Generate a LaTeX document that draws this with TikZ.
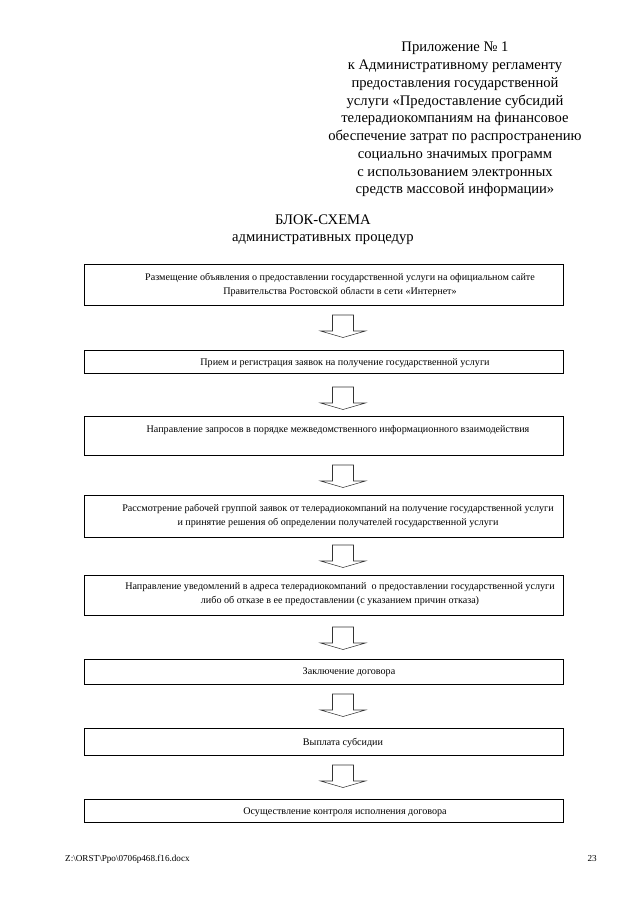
\documentclass[tikz,border=0pt]{standalone}
\usepackage{fontspec}
\setmainfont{Liberation Serif}
\usetikzlibrary{calc}
\begin{document}
\begin{tikzpicture}[x=0.9297pt,y=-0.9297pt]
\tikzset{
  procbox/.style={draw=black, line width=0.7pt, inner sep=0pt, outer sep=0pt, minimum width={479*0.9297pt}},
  boxtext/.style={align=center, inner sep=0pt, font=\fontsize{9.4}{13}\selectfont},
  hdrtext/.style={align=center, inner sep=0pt, font=\fontsize{13.6}{16.5}\selectfont},
  arrowline/.style={draw=black!80, line width=0.5pt, line join=miter},
  blkarrow/.pic={\path[arrowline] (-10.5,0) -- (-10.5,16) -- (-22.5,16) -- (0,22.5) -- (22.5,16) -- (10.5,16) -- (10.5,0) -- cycle;}
}
\useasboundingbox (0,0) rectangle (640,905);
\fill[white] (0,0) rectangle (640,905);

% header
\node[hdrtext] (hdr) at (455,119.5) {Приложение № 1\\к Административному регламенту\\предоставления государственной\\услуги «Предоставление субсидий\\телерадиокомпаниям на финансовое\\обеспечение затрат по распространению\\социально значимых программ\\с использованием электронных\\средств массовой информации»};
\node[hdrtext] (title1) at (323,220) {БЛОК-СХЕМА};
\node[hdrtext] (title2) at (323,239.5) {административных процедур};

% boxes
\node[procbox, minimum height={41*0.9297pt}] (b1) at (323.5,284.5) {};
\node[procbox, minimum height={23*0.9297pt}] (b2) at (323.5,361.5) {};
\node[procbox, minimum height={39*0.9297pt}] (b3) at (323.5,435.5) {};
\node[procbox, minimum height={42*0.9297pt}] (b4) at (323.5,516) {};
\node[procbox, minimum height={40*0.9297pt}] (b5) at (323.5,595) {};
\node[procbox, minimum height={25*0.9297pt}] (b6) at (323.5,671.5) {};
\node[procbox, minimum height={27*0.9297pt}] (b7) at (323.5,741.5) {};
\node[procbox, minimum height={23*0.9297pt}] (b8) at (323.5,810.5) {};

% box texts
\node[boxtext] (t1) at (340,285) {Размещение объявления о предоставлении государственной услуги на официальном сайте\\Правительства Ростовской области в сети «Интернет»};
\node[boxtext] (t2) at (345,363) {Прием и регистрация заявок на получение государственной услуги};
\node[boxtext] (t3) at (338,430) {Направление запросов в порядке межведомственного информационного взаимодействия};
\node[boxtext] (t4) at (338,516) {Рассмотрение рабочей группой заявок от телерадиокомпаний на получение государственной услуги\\и принятие решения об определении получателей государственной услуги};
\node[boxtext] (t5) at (340,594) {Направление уведомлений в адреса телерадиокомпаний\ \ о предоставлении государственной услуги\\либо об отказе в ее предоставлении (с указанием причин отказа)};
\node[boxtext] (t6) at (349,672) {Заключение договора};
\node[boxtext] (t7) at (343,743) {Выплата субсидии};
\node[boxtext] (t8) at (345,812) {Осуществление контроля исполнения договора};

% block arrows between boxes
\pic at (343,315) {blkarrow};
\pic at (343,387) {blkarrow};
\pic at (343,465) {blkarrow};
\pic at (343,545) {blkarrow};
\pic at (343,627) {blkarrow};
\pic at (343,694) {blkarrow};
\pic at (343,765) {blkarrow};

% footer
\node[anchor=west, inner sep=0pt, font=\fontsize{8.5}{10}\selectfont] (foot) at (65,859) {Z:\textbackslash ORST\textbackslash Ppo\textbackslash 0706p468.f16.docx};
\node[anchor=east, inner sep=0pt, font=\fontsize{8.5}{10}\selectfont] (page) at (597,859) {23};
\end{tikzpicture}
\end{document}
